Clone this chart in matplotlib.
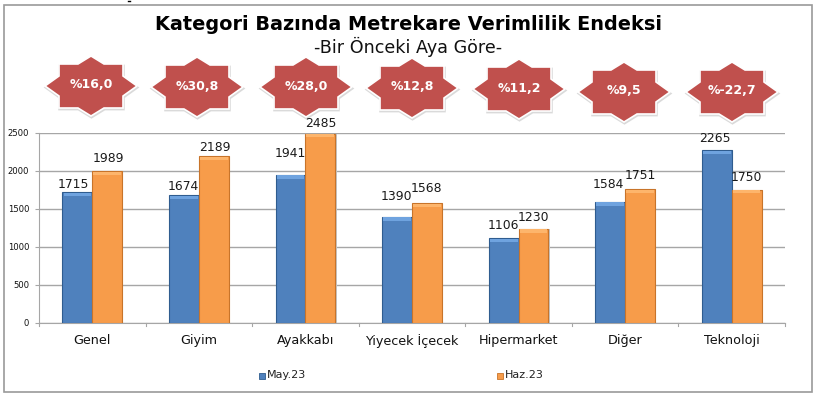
import matplotlib
matplotlib.use('Agg')
import matplotlib.pyplot as plt
import numpy as np
from matplotlib.patches import Polygon, Rectangle

categories = ['Genel', 'Giyim', 'Ayakkabı', 'Yiyecek İçecek', 'Hipermarket', 'Diğer', 'Teknoloji']
may = [1715, 1674, 1941, 1390, 1106, 1584, 2265]
haz = [1989, 2189, 2485, 1568, 1230, 1751, 1750]
changes = ['%16,0', '%30,8', '%28,0', '%12,8', '%11,2', '%9,5', '%-22,7']

W, H = 817, 396
BLUE, BLUE_TOP, BLUE_EDGE = '#4F81BD', '#6FA3DF', '#2F5C8F'
ORANGE, ORANGE_TOP, ORANGE_EDGE = '#F79C4A', '#FDB56C', '#C8742A'

# star centres and label nudges, in pixels
star_x = [91, 197, 306, 412, 519, 624, 732]
star_y = [86, 87, 87, 88, 89, 92, 92]
may_off = [8, 9, 21, 20, 13, 18, 12]
haz_off = [13, 9, 10, 15, 12, 14, 12]
may_dx = [-4, -1, 0, -1, 0, -2, -2]
haz_dx = [1, 1, 0, 0, 0, 0, 0]
star_shape = [(0, -30), (13, -22), (32, -22), (32, -10), (46, 0), (32, 10), (32, 22), (13, 22),
              (0, 30), (-13, 22), (-32, 22), (-32, 10), (-46, 0), (-32, -10), (-32, -22), (-13, -22)]

fig = plt.figure(figsize=(W / 100, H / 100), dpi=100)

# overlay in pixel coords for frame, title, stars
bg = fig.add_axes([0, 0, 1, 1])
bg.set_xlim(0, W)
bg.set_ylim(H, 0)
bg.axis('off')
bg.add_patch(Rectangle((4.5, 4.5), 808, 387, fc='white', ec='#9A9A9A', lw=1.2))
bg.plot([128.5, 130.5], [0.8, 0.8], color='black', lw=1)
bg.text(409, 25, 'Kategori Bazında Metrekare Verimlilik Endeksi', ha='center', va='center',
        fontsize=13.9, fontweight='bold', color='black')
bg.text(408, 47, '-Bir Önceki Aya Göre-', ha='center', va='center', fontsize=12.6, color='#111111')

for x, y, txt in zip(star_x, star_y, changes):
    pts = np.array(star_shape, dtype=float)
    bg.add_patch(Polygon(pts * 1.04 + [x + 0.5, y + 1.5], fc='#DADADA', ec='none'))
    bg.add_patch(Polygon(pts + [x, y], fc='#C0504D', ec='white', lw=1.2, joinstyle='miter'))
    bg.text(x, y - 1, txt, ha='center', va='center', fontsize=9, fontweight='bold', color='white')

ax = fig.add_axes([39 / W, 1 - 322.5 / H, 746 / W, 190 / H])
ax.patch.set_alpha(0)
pos = np.arange(len(categories))
bw = 0.28

for vals, left, col, top, edge in [(may, pos - bw, BLUE, BLUE_TOP, BLUE_EDGE),
                                   (haz, pos, ORANGE, ORANGE_TOP, ORANGE_EDGE)]:
    # soft grey shadow, then the bar, then the bevel strip on top
    ax.bar(left + 0.012, vals, bw, align='edge', color='#C4C4C4', zorder=2)
    ax.bar(left, vals, bw, align='edge', color=col, edgecolor=edge, lw=0.8, zorder=3)
    ax.bar(left + 0.01, [45] * len(vals), bw - 0.02, bottom=np.array(vals) - 50, align='edge',
           color=top, zorder=4)

for i in pos:
    ax.annotate(str(may[i]), (i - bw / 2, may[i]), xytext=(may_dx[i] * 0.72, may_off[i] * 0.72),
                textcoords='offset points', ha='center', va='center', fontsize=8.9, color='#1A1A1A', zorder=6)
    ax.annotate(str(haz[i]), (i + bw / 2, haz[i]), xytext=(haz_dx[i] * 0.72, haz_off[i] * 0.72),
                textcoords='offset points', ha='center', va='center', fontsize=8.9, color='#1A1A1A', zorder=6)

ax.set_xlim(-0.5, len(categories) - 0.5)
ax.set_ylim(0, 2500)
ax.set_yticks(range(0, 2501, 500))
ax.yaxis.grid(True, color='#A6A6A6', lw=1)
ax.set_axisbelow(True)
ax.set_xticks(pos)
ax.set_xticklabels(categories, fontsize=9.2, color='#111111')
ax.tick_params(axis='x', length=0, pad=8)
ax.tick_params(axis='y', length=3, width=0.8, color='#A6A6A6', labelsize=6.1, pad=4, labelcolor='#111111')
for t in np.arange(-0.5, len(categories)):
    ax.plot([t, t], [0, -50], color='#A6A6A6', lw=0.8, clip_on=False)
for s in ['top', 'right']:
    ax.spines[s].set_visible(False)
for s in ['left', 'bottom']:
    ax.spines[s].set_color('#A6A6A6')

# legend drawn by hand to sit where the original has it
for x, col, edge, name in [(259, BLUE, BLUE_EDGE, 'May.23'), (497, ORANGE, ORANGE_EDGE, 'Haz.23')]:
    bg.add_patch(Rectangle((x, 372.5), 6, 6, fc=col, ec=edge, lw=0.6))
    bg.text(x + 8, 375.5, name, ha='left', va='center', fontsize=8, color='#222222')

fig.savefig('out.png', dpi=100)
